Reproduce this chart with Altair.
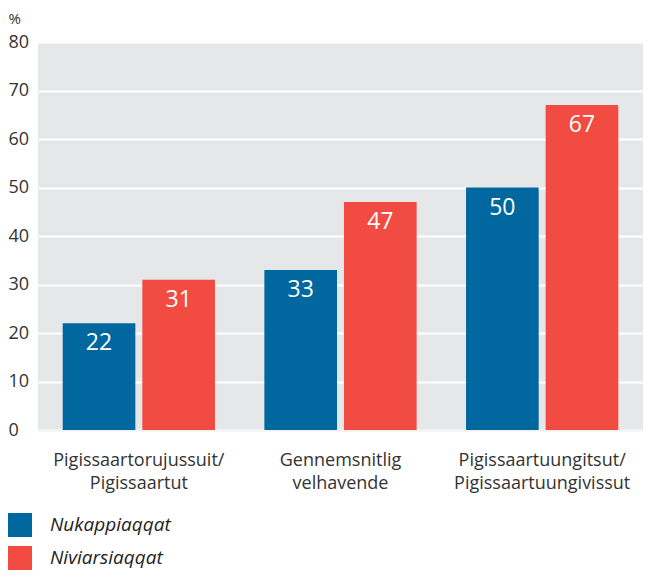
import altair as alt
import pandas as pd

categories = ["Pigissaartorujussuit/\nPigissaartut", "Gennemsnitlig\nvelhavende", "Pigissaartuungitsut/\nPigissaartuungivissut"]
series = ["Nukappiaqqat", "Niviarsiaqqat"]
boys = [22, 33, 50]
girls = [31, 47, 67]

rows = []
for c, b, g in zip(categories, boys, girls):
    rows.append({"cat": c, "series": series[0], "value": b})
    rows.append({"cat": c, "series": series[1], "value": g})
df = pd.DataFrame(rows)

FONT = "Open Sans"
TXT = "#333333"

x = alt.X("cat:N", sort=categories, title=None,
          scale=alt.Scale(paddingInner=0.245, paddingOuter=0.1225),
          axis=alt.Axis(labelAngle=0, labelExpr="split(datum.label, '\\n')",
                        labelFontSize=18, labelColor=TXT, labelFont=FONT,
                        labelLineHeight=23, labelPadding=21, labelBaseline="top",
                        ticks=False, domain=True, domainColor="#f2f2f2", domainWidth=2,
                        grid=False))
xo = alt.XOffset("series:N", sort=series, scale=alt.Scale(paddingInner=0.0875, paddingOuter=0))
y = alt.Y("value:Q", scale=alt.Scale(domain=[0, 80]),
          axis=alt.Axis(values=list(range(0, 81, 10)), title="%", titleAngle=0,
                        titleAlign="left", titleBaseline="top", titleX=-30, titleY=-31,
                        titleFontSize=15, titleFont=FONT, titleColor=TXT, titleFontWeight="normal",
                        labelAlign="left", labelPadding=30, labelFontSize=18, labelFont=FONT,
                        labelColor=TXT, labelBaseline="middle", ticks=False, domain=False,
                        grid=True, gridColor="white", gridWidth=2))

color = alt.Color("series:N", sort=series,
                  scale=alt.Scale(domain=series, range=["#00679f", "#f24c42"]),
                  legend=alt.Legend(title=None, orient="none", legendX=-30, legendY=471,
                                    direction="vertical", symbolType="square", symbolSize=576,
                                    symbolStrokeWidth=0, symbolOpacity=1,
                                    labelFontSize=19, labelFont=FONT, labelFontStyle="italic",
                                    labelColor="#222222", labelOffset=18, rowPadding=9, padding=0))

bars = alt.Chart(df).mark_bar(opacity=1).encode(x=x, xOffset=xo, y=y, color=color)
labels = alt.Chart(df).mark_text(baseline="top", dy=9, color="white", fontSize=23, font=FONT).encode(
    x=x, xOffset=xo, y=y, text="value:Q")

chart = (bars + labels).properties(
    width=605, height=388,
    autosize=alt.AutoSizeParams(type="none"),
    padding={"left": 30, "top": 34, "right": 0, "bottom": 142},
).configure_view(fill="#e6e7e9", stroke=None)

chart.save("out.html", embed_options={"renderer": "svg", "actions": False})
